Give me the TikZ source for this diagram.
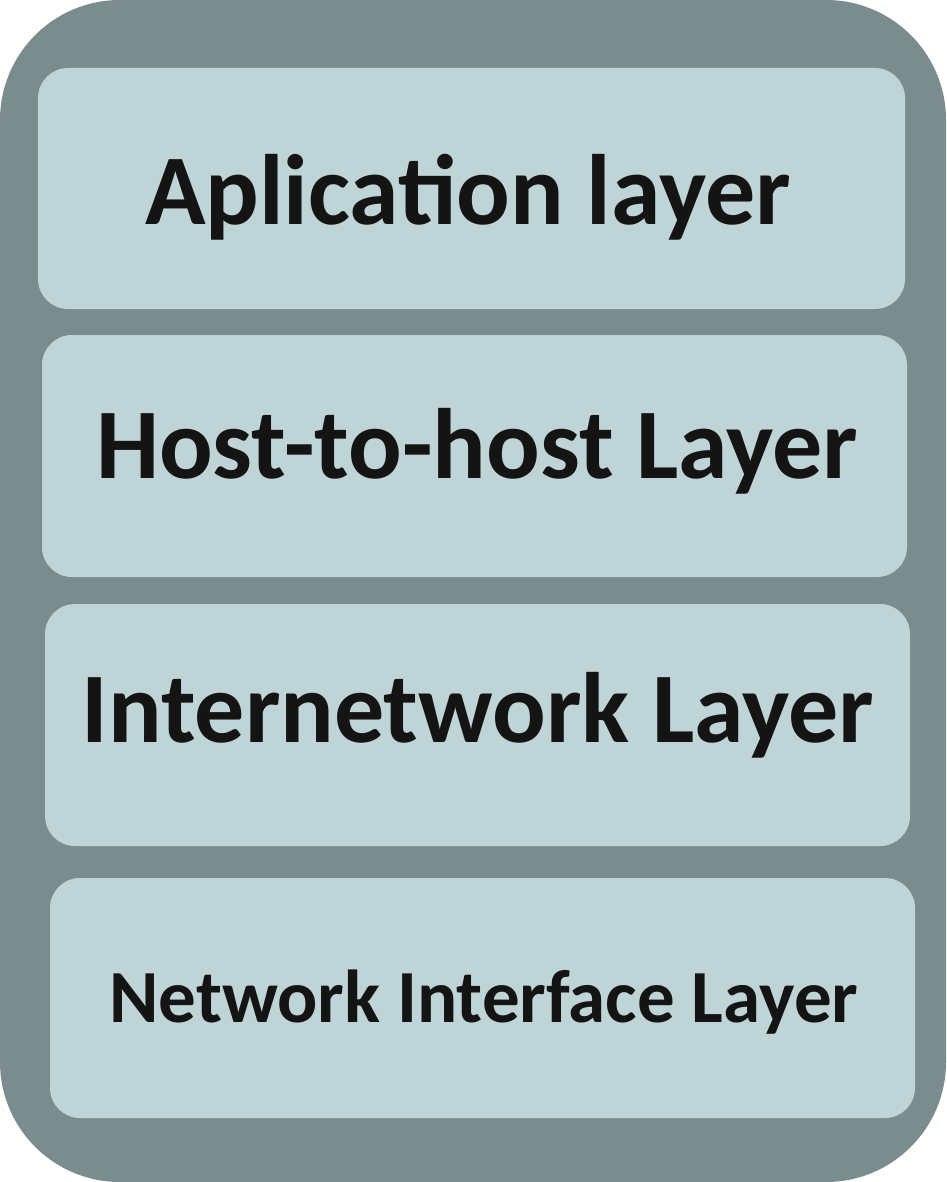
\documentclass[tikz,border=0pt]{standalone}
\usepackage{fontspec}
\setmainfont{Carlito}
\definecolor{outerc}{HTML}{7A8C8E}
\definecolor{innerc}{HTML}{BFD4D6}
\definecolor{txtc}{HTML}{141414}
\begin{document}
\begin{tikzpicture}[x=1pt,y=-1pt,
  layerbox/.style={fill=innerc,draw=none,rounded corners=30pt},
  layertext/.style={anchor=base,text=txtc,font=\bfseries\fontsize{100}{110}\selectfont,inner sep=0pt}]
\useasboundingbox (0,0) rectangle (946,1182);
\fill[outerc,rounded corners=120pt] (0,0) rectangle (946,1182);
\fill[layerbox] (38,68) rectangle (905,309);
\fill[layerbox] (42,335) rectangle (907,577);
\fill[layerbox] (45,604) rectangle (910,846);
\fill[layerbox] (50,878) rectangle (915,1118);
\node[layertext] (l1) at (468,225) {Aplication layer};
\node[layertext] (l2) at (477,478) {Host-to-host Layer};
\node[layertext] (l3) at (478,742) {Internetwork Layer};
\node[layertext,font=\bfseries\fontsize{75}{82}\selectfont] (l4) at (484,1022) {Network Interface Layer};
\end{tikzpicture}
\end{document}
